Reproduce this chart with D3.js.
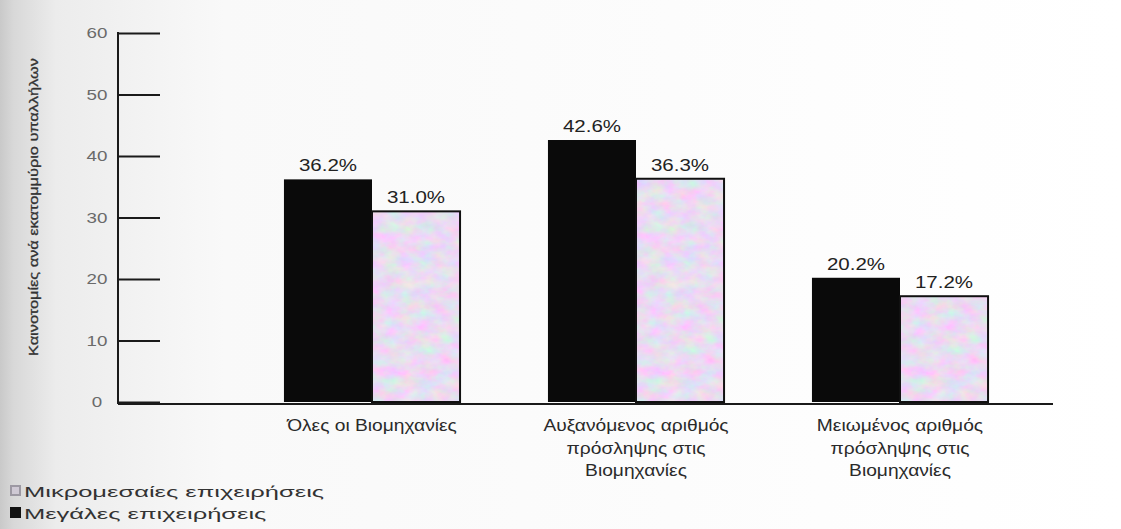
<!DOCTYPE html>
<html>
<head>
<meta charset="utf-8">
<script src="https://cdn.jsdelivr.net/npm/d3@7"></script>
<style>
  html, body { margin: 0; padding: 0; background: #fff; }
  svg { display: block; font-family: "Liberation Sans", Arial, sans-serif; }
</style>
</head>
<body>
<svg id="chart" width="1121" height="529"></svg>
<script>
// Industry groups (x categories), each split into two firm-size series
const categories = [
  ["Όλες οι Βιομηχανίες"],
  ["Αυξανόμενος αριθμός", "πρόσληψης στις", "Βιομηχανίες"],
  ["Μειωμένος αριθμός", "πρόσληψης στις", "Βιομηχανίες"]
];
const seriesNames = ["Μεγάλες επιχειρήσεις", "Μικρομεσαίες επιχειρήσεις"];
const largeFirms = [36.2, 42.6, 20.2];
const smeFirms = [31.0, 36.3, 17.2];
const yTicks = [0, 10, 20, 30, 40, 50, 60];
const yTitle = "Καινοτομίες ανά εκατομμύριο υπαλλήλων";

const svg = d3.select("#chart");
const W = 1121, H = 529;

// widen a text element horizontally by the given factor
function widen(sel, factor) {
  sel.each(function () {
    const len = this.getComputedTextLength();
    d3.select(this).attr("textLength", len * factor).attr("lengthAdjust", "spacingAndGlyphs");
  });
}

const defs = svg.append("defs");

// scanned-page shading along the left edge
const bg = defs.append("linearGradient").attr("id", "pageShade")
  .attr("x1", 0).attr("x2", 1).attr("y1", 0).attr("y2", 0);
bg.append("stop").attr("offset", 0).attr("stop-color", "#c9c9c9");
bg.append("stop").attr("offset", 0.012).attr("stop-color", "#d8d8d8");
bg.append("stop").attr("offset", 0.05).attr("stop-color", "#ececec");
bg.append("stop").attr("offset", 0.2).attr("stop-color", "#f9f9f9");
bg.append("stop").attr("offset", 1).attr("stop-color", "#ffffff");
svg.append("rect").attr("width", W).attr("height", H).attr("fill", "url(#pageShade)");

// pastel speckled print texture for the SME bars
const tex = defs.append("filter").attr("id", "pastel")
  .attr("x", 0).attr("y", 0).attr("width", 1).attr("height", 1)
  .attr("color-interpolation-filters", "sRGB");
tex.append("feTurbulence").attr("type", "fractalNoise")
  .attr("baseFrequency", "0.06 0.09").attr("numOctaves", 4).attr("seed", 11)
  .attr("result", "noise");
tex.append("feColorMatrix").attr("in", "noise").attr("type", "matrix")
  .attr("values",
    "0.24 -0.13 0 0 0.86 " +
    "-0.12 0.24 0 0 0.80 " +
    "0 -0.15 0.12 0 0.96 " +
    "0 0 0 0 1")
  .attr("result", "tint");
tex.append("feComposite").attr("in", "tint").attr("in2", "SourceAlpha").attr("operator", "in");

const margin = { left: 118, top: 33, baseline: 402 };

const x0 = d3.scaleBand()
  .domain(d3.range(categories.length))
  .range([240, 1032])
  .paddingInner(0.333)
  .paddingOuter(0.1665);

const x1 = d3.scaleBand()
  .domain([0, 1])
  .range([0, x0.bandwidth()]);

const y = d3.scaleLinear().domain([0, 60]).range([margin.baseline, margin.top]);

// y axis with long ticks
const yAxis = d3.axisRight(y).tickValues(yTicks).tickSize(42).tickFormat("");
const gy = svg.append("g").attr("transform", `translate(${margin.left},0)`).call(yAxis);
gy.select(".domain").remove();
gy.selectAll(".tick line").attr("stroke", "#1a1a1a").attr("stroke-width", 2);
svg.append("line")
  .attr("x1", margin.left).attr("x2", margin.left)
  .attr("y1", y(60) - 1).attr("y2", margin.baseline + 2)
  .attr("stroke", "#1a1a1a").attr("stroke-width", 2);

// tick labels
const tickText = svg.append("g").selectAll("text").data(yTicks).join("text")
  .attr("x", 97).attr("y", d => y(d)).attr("dy", "0.35em")
  .attr("text-anchor", "middle")
  .attr("font-size", 15).attr("fill", "#6a6a6a")
  .text(d => d);
widen(tickText, 1.25);

// y-axis title
svg.append("text")
  .attr("transform", `translate(38,${207}) rotate(-90)`)
  .attr("text-anchor", "middle")
  .attr("font-size", 13.5).attr("fill", "#333")
  .attr("stroke", "#333").attr("stroke-width", 0.3)
  .attr("textLength", 298).attr("lengthAdjust", "spacingAndGlyphs")
  .text(yTitle);

// bars
const groups = svg.append("g").selectAll("g").data(categories).join("g")
  .attr("transform", (d, i) => `translate(${x0(i)},0)`);

groups.append("rect")
  .attr("x", x1(0)).attr("width", x1.bandwidth())
  .attr("y", (d, i) => y(largeFirms[i]))
  .attr("height", (d, i) => y(0) - y(largeFirms[i]))
  .attr("fill", "#0a0a0a");

groups.append("rect")
  .attr("x", x1(1)).attr("width", x1.bandwidth())
  .attr("y", (d, i) => y(smeFirms[i]))
  .attr("height", (d, i) => y(0) - y(smeFirms[i]))
  .attr("fill", "#e9e4f2")
  .attr("filter", "url(#pastel)");

groups.append("rect")
  .attr("x", x1(1)).attr("width", x1.bandwidth())
  .attr("y", (d, i) => y(smeFirms[i]))
  .attr("height", (d, i) => y(0) - y(smeFirms[i]))
  .attr("fill", "none")
  .attr("stroke", "#111").attr("stroke-width", 2);

// value labels
const fmt = v => v.toFixed(1) + "%";
const vl1 = groups.append("text")
  .attr("x", x1(0) + x1.bandwidth() / 2)
  .attr("y", (d, i) => y(largeFirms[i]) - 8)
  .attr("text-anchor", "middle").attr("font-size", 16).attr("fill", "#222")
  .text((d, i) => fmt(largeFirms[i]));
const vl2 = groups.append("text")
  .attr("x", x1(1) + x1.bandwidth() / 2)
  .attr("y", (d, i) => y(smeFirms[i]) - 8)
  .attr("text-anchor", "middle").attr("font-size", 16).attr("fill", "#222")
  .text((d, i) => fmt(smeFirms[i]));
widen(vl1, 1.28);
widen(vl2, 1.28);

// baseline
svg.append("line")
  .attr("x1", margin.left).attr("x2", 1053)
  .attr("y1", margin.baseline + 2).attr("y2", margin.baseline + 2)
  .attr("stroke", "#1a1a1a").attr("stroke-width", 2);

// category labels
groups.each(function (lines) {
  const g = d3.select(this);
  lines.forEach((ln, k) => {
    const t = g.append("text")
      .attr("text-anchor", "middle").attr("font-size", 16).attr("fill", "#2a2a2a")
      .attr("x", x0.bandwidth() / 2)
      .attr("y", 431 + k * 22.5).text(ln);
    widen(t, 1.2);
  });
});

// legend
const legend = svg.append("g");
const legendItems = [
  { name: seriesNames[1], kind: "sme", y: 497 },
  { name: seriesNames[0], kind: "large", y: 519 }
];
legendItems.forEach(it => {
  if (it.kind === "sme") {
    legend.append("rect").attr("x", 10).attr("y", it.y - 12).attr("width", 11).attr("height", 11)
      .attr("fill", "#9c98a2");
    legend.append("rect").attr("x", 12).attr("y", it.y - 10).attr("width", 7).attr("height", 7)
      .attr("fill", "#cfc9d4");
  } else {
    legend.append("rect").attr("x", 10).attr("y", it.y - 12).attr("width", 11).attr("height", 11)
      .attr("fill", "#111");
  }
  const t = legend.append("text").attr("x", 24).attr("y", it.y)
    .attr("font-size", 15).attr("fill", "#333").text(it.name);
  widen(t, 1.7);
});
</script>
</body>
</html>
